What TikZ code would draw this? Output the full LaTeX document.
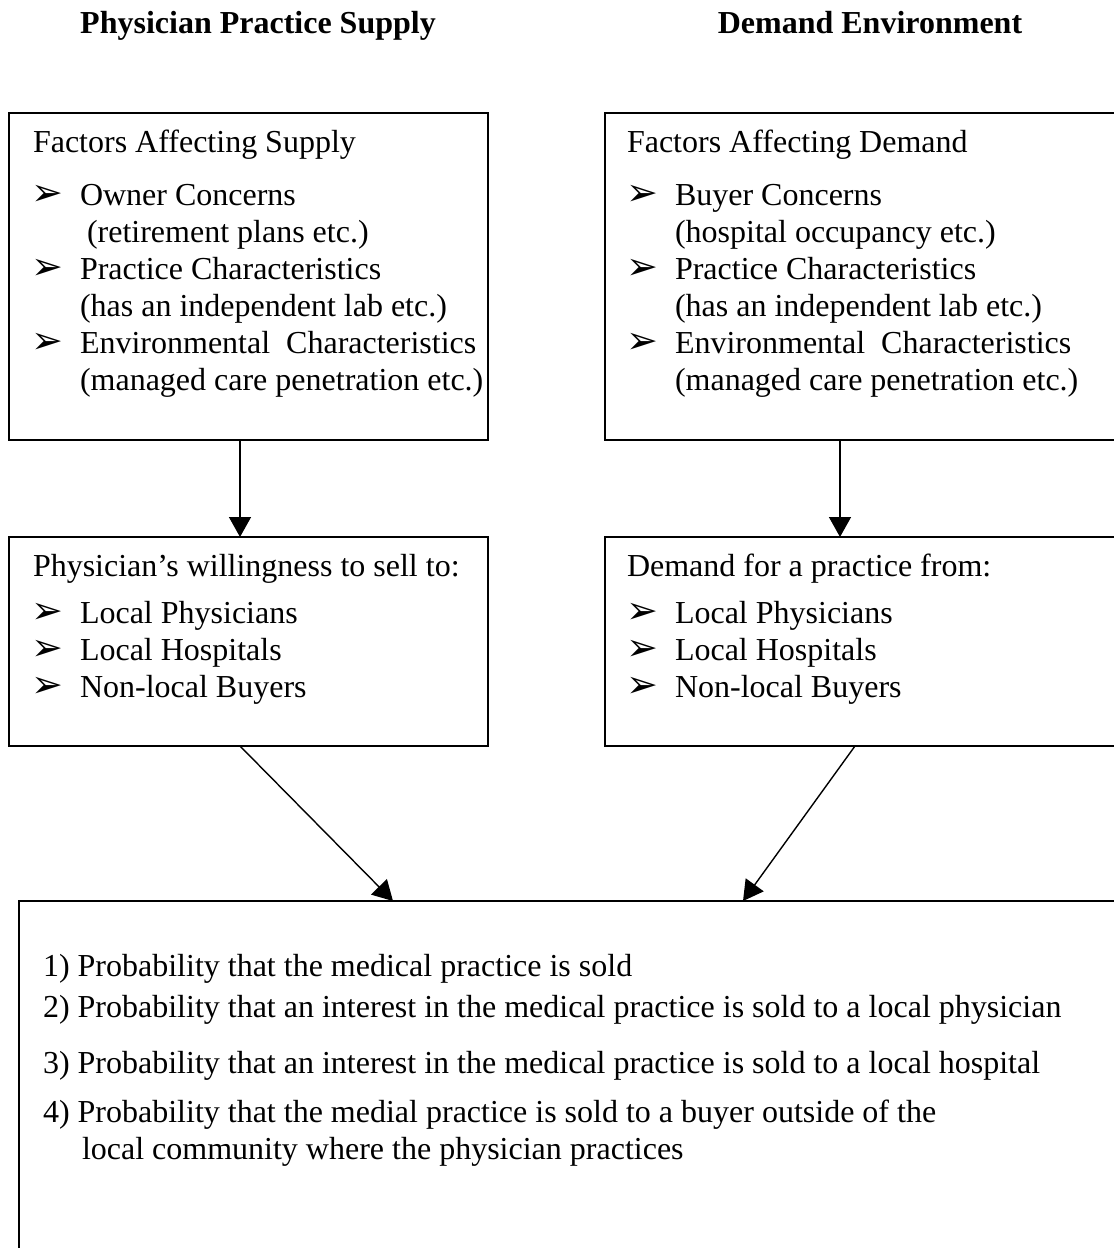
\documentclass[tikz,border=0pt]{standalone}
\usepackage{fontspec}
\setmainfont{Liberation Serif}
\newfontfamily\dejavu{DejaVu Sans}
\usetikzlibrary{arrows.meta,fit}
\newcommand\bul{{\dejavu\fontsize{19}{19}\selectfont ➢}}
\begin{document}
\begin{tikzpicture}[x=0.5pt,y=-0.5pt,
  every node/.style={inner sep=0pt, outer sep=0pt},
  boxstyle/.style={draw, line width=1pt, inner sep=0pt},
  txt/.style={anchor=base west, font=\fontsize{16}{19}\selectfont},
  bulstyle/.style={anchor=base west},
  ttl/.style={anchor=base, font=\fontsize{16}{19}\selectfont\bfseries},
  arr/.style={-{Triangle[width=11pt,length=10pt]}, line width=0.7pt}]
\useasboundingbox (0,0) rectangle (1114,1248);
\clip (0,0) rectangle (1114,1248);
\fill[white] (0,0) rectangle (1114,1248);

% titles
\node[ttl] (ts) at (258,33) {Physician Practice Supply};
\node[ttl] (td) at (870,33) {Demand Environment};

% boxes
\node[boxstyle, fit={(9,113) (488,440)}] (tl) {};
\node[boxstyle, fit={(605,113) (1130,440)}] (tr) {};
\node[boxstyle, fit={(9,537) (488,746)}] (ml) {};
\node[boxstyle, fit={(605,537) (1130,746)}] (mr) {};
\node[boxstyle, fit={(19,901) (1130,1270)}] (bot) {};

% top-left text
\node[txt] (l0) at (33,152) {Factors Affecting Supply};
\node[bulstyle] (lb1) at (32,205) {\bul};
\node[txt] (l1) at (80,205) {Owner Concerns};
\node[txt] (l2) at (87,242) {(retirement plans etc.)};
\node[bulstyle] (lb2) at (32,279) {\bul};
\node[txt] (l3) at (80,279) {Practice Characteristics};
\node[txt] (l4) at (80,316) {(has an independent lab etc.)};
\node[bulstyle] (lb3) at (32,353) {\bul};
\node[txt] (l5) at (80,353) {Environmental~~Characteristics};
\node[txt] (l6) at (80,390) {(managed care penetration etc.)};

% top-right text
\node[txt] (r0) at (627,152) {Factors Affecting Demand};
\node[bulstyle] (rb1) at (626,205) {\bul};
\node[txt] (r1) at (675,205) {Buyer Concerns};
\node[txt] (r2) at (675,242) {(hospital occupancy etc.)};
\node[bulstyle] (rb2) at (626,279) {\bul};
\node[txt] (r3) at (675,279) {Practice Characteristics};
\node[txt] (r4) at (675,316) {(has an independent lab etc.)};
\node[bulstyle] (rb3) at (626,353) {\bul};
\node[txt] (r5) at (675,353) {Environmental~~Characteristics};
\node[txt] (r6) at (675,390) {(managed care penetration etc.)};

% middle-left text
\node[txt] (m0) at (33,576) {Physician’s willingness to sell to:};
\node[bulstyle] (mb1) at (32,623) {\bul};
\node[txt] (m1) at (80,623) {Local Physicians};
\node[bulstyle] (mb2) at (32,660) {\bul};
\node[txt] (m2) at (80,660) {Local Hospitals};
\node[bulstyle] (mb3) at (32,697) {\bul};
\node[txt] (m3) at (80,697) {Non-local Buyers};

% middle-right text
\node[txt] (n0) at (627,576) {Demand for a practice from:};
\node[bulstyle] (nb1) at (626,623) {\bul};
\node[txt] (n1) at (675,623) {Local Physicians};
\node[bulstyle] (nb2) at (626,660) {\bul};
\node[txt] (n2) at (675,660) {Local Hospitals};
\node[bulstyle] (nb3) at (626,697) {\bul};
\node[txt] (n3) at (675,697) {Non-local Buyers};

% bottom text
\node[txt] (b1) at (43,976) {1) Probability that the medical practice is sold};
\node[txt] (b2) at (43,1017) {2) Probability that an interest in the medical practice is sold to a local physician};
\node[txt] (b3) at (43,1073) {3) Probability that an interest in the medical practice is sold to a local hospital};
\node[txt] (b4) at (43,1122) {4) Probability that the medial practice is sold to a buyer outside of the};
\node[txt] (b5) at (82,1159) {local community where the physician practices};

% connectors
\coordinate (x1) at (240,0);
\coordinate (x2) at (840,0);
\coordinate (x3) at (393,0);
\coordinate (x4) at (855,0);
\coordinate (x5) at (743,0);
\draw[arr] (tl.south -| x1) -- (ml.north -| x1);
\draw[arr] (tr.south -| x2) -- (mr.north -| x2);
\draw[arr] (ml.south -| x1) -- (bot.north -| x3);
\draw[arr] (mr.south -| x4) -- (bot.north -| x5);
\end{tikzpicture}
\end{document}
